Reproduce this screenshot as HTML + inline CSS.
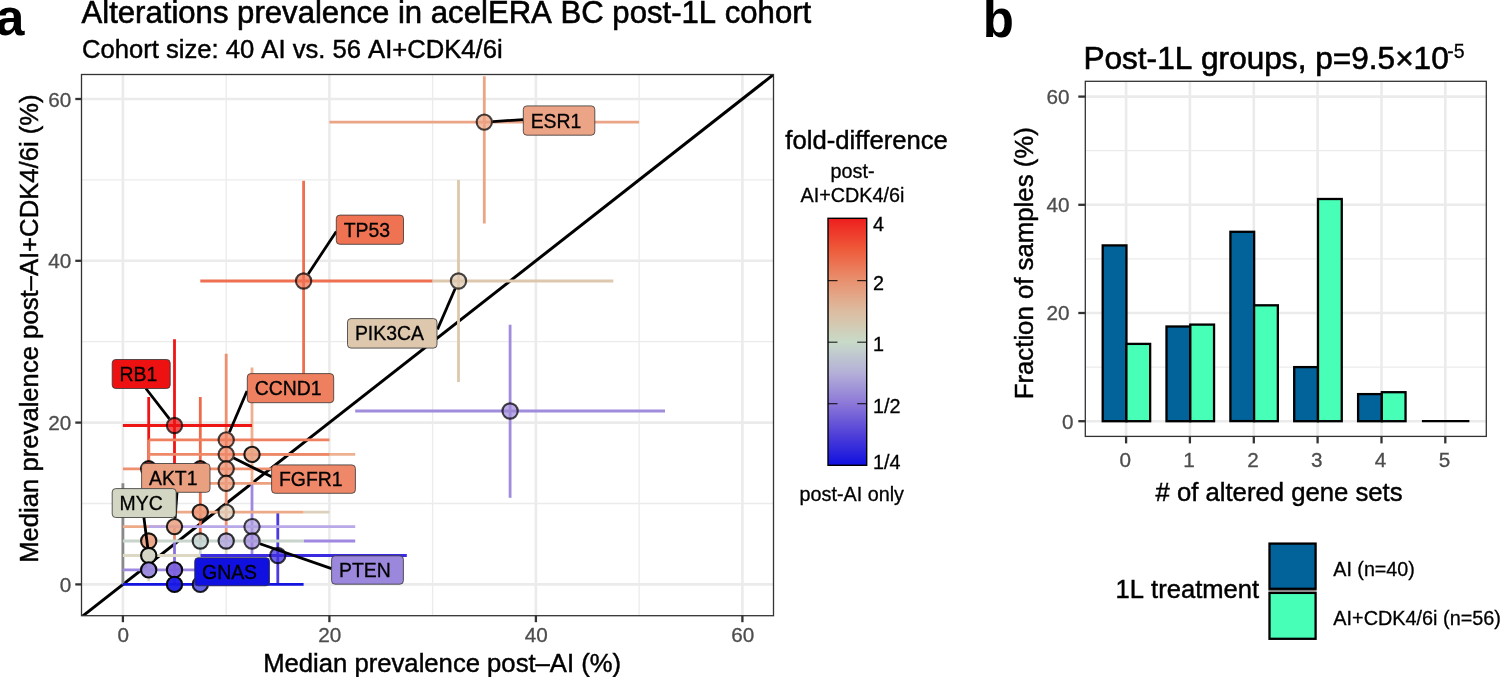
<!DOCTYPE html>
<html><head><meta charset="utf-8"><style>
html,body{margin:0;padding:0;background:#fff;width:1500px;height:677px;overflow:hidden}
svg{display:block;will-change:transform}
text{font-family:"Liberation Sans",sans-serif;font-kerning:none;font-feature-settings:"kern" 0, "liga" 0}
</style></head><body>
<svg width="1500" height="677" viewBox="0 0 1500 677" font-family="Liberation Sans, sans-serif">
<defs>
<clipPath id="clipA"><rect x="81.5" y="74.5" width="692.0" height="541.2"/></clipPath>
<linearGradient id="cbar" x1="0" y1="0" x2="0" y2="1">
<stop offset="0" stop-color="#ee1e1e"/>
<stop offset="0.125" stop-color="#ee5a3a"/>
<stop offset="0.25" stop-color="#e8906e"/>
<stop offset="0.375" stop-color="#ddbca0"/>
<stop offset="0.5" stop-color="#c8dac8"/>
<stop offset="0.625" stop-color="#b4b0d8"/>
<stop offset="0.75" stop-color="#8c78d8"/>
<stop offset="0.875" stop-color="#5040d8"/>
<stop offset="1" stop-color="#1010e0"/>
</linearGradient>
</defs>
<rect x="81.5" y="74.5" width="692.0" height="541.2" fill="#fff"/>
<g clip-path="url(#clipA)">
<line x1="226.2" y1="74.5" x2="226.2" y2="615.7" stroke="#ebebeb" stroke-width="1.3"/>
<line x1="81.5" y1="503.5" x2="773.5" y2="503.5" stroke="#ebebeb" stroke-width="1.3"/>
<line x1="432.6" y1="74.5" x2="432.6" y2="615.7" stroke="#ebebeb" stroke-width="1.3"/>
<line x1="81.5" y1="341.7" x2="773.5" y2="341.7" stroke="#ebebeb" stroke-width="1.3"/>
<line x1="639.1" y1="74.5" x2="639.1" y2="615.7" stroke="#ebebeb" stroke-width="1.3"/>
<line x1="81.5" y1="179.9" x2="773.5" y2="179.9" stroke="#ebebeb" stroke-width="1.3"/>
<line x1="122.9" y1="74.5" x2="122.9" y2="615.7" stroke="#ebebeb" stroke-width="2.6"/>
<line x1="81.5" y1="584.4" x2="773.5" y2="584.4" stroke="#ebebeb" stroke-width="2.6"/>
<line x1="329.4" y1="74.5" x2="329.4" y2="615.7" stroke="#ebebeb" stroke-width="2.6"/>
<line x1="81.5" y1="422.6" x2="773.5" y2="422.6" stroke="#ebebeb" stroke-width="2.6"/>
<line x1="535.9" y1="74.5" x2="535.9" y2="615.7" stroke="#ebebeb" stroke-width="2.6"/>
<line x1="81.5" y1="260.8" x2="773.5" y2="260.8" stroke="#ebebeb" stroke-width="2.6"/>
<line x1="742.4" y1="74.5" x2="742.4" y2="615.7" stroke="#ebebeb" stroke-width="2.6"/>
<line x1="81.5" y1="99.0" x2="773.5" y2="99.0" stroke="#ebebeb" stroke-width="2.6"/>
<line x1="71.3" y1="624.9" x2="794.0" y2="58.5" stroke="#000" stroke-width="3.0"/>
<line x1="329.4" y1="122.1" x2="639.1" y2="122.1" stroke="#eca486" stroke-width="2.8"/>
<line x1="484.3" y1="223.6" x2="484.3" y2="76.3" stroke="#eca486" stroke-width="2.8"/>
<line x1="200.3" y1="281.0" x2="432.6" y2="281.0" stroke="#ee7050" stroke-width="2.8"/>
<line x1="303.6" y1="386.2" x2="303.6" y2="180.7" stroke="#ee7050" stroke-width="2.8"/>
<line x1="432.6" y1="281.0" x2="613.3" y2="281.0" stroke="#ddc8ae" stroke-width="2.8"/>
<line x1="458.5" y1="382.1" x2="458.5" y2="179.9" stroke="#ddc8ae" stroke-width="2.8"/>
<line x1="355.2" y1="411.0" x2="665.0" y2="411.0" stroke="#a08cdc" stroke-width="2.8"/>
<line x1="510.1" y1="497.8" x2="510.1" y2="324.7" stroke="#a08cdc" stroke-width="2.8"/>
<line x1="122.9" y1="584.4" x2="122.9" y2="483.3" stroke="#8a8a8a" stroke-width="2.8"/>
<line x1="148.7" y1="468.8" x2="148.7" y2="397.1" stroke="#ee1515" stroke-width="2.8"/>
<line x1="148.7" y1="512.2" x2="148.7" y2="439.9" stroke="#ee8060" stroke-width="2.8"/>
<line x1="148.7" y1="581.2" x2="148.7" y2="541.0" stroke="#ddd8c4" stroke-width="2.8"/>
<line x1="174.5" y1="511.6" x2="174.5" y2="339.3" stroke="#ee1515" stroke-width="2.8"/>
<line x1="174.5" y1="541.0" x2="174.5" y2="526.6" stroke="#ee9070" stroke-width="2.8"/>
<line x1="174.5" y1="584.4" x2="174.5" y2="541.0" stroke="#8a70dd" stroke-width="2.8"/>
<line x1="200.3" y1="540.7" x2="200.3" y2="397.1" stroke="#ee6a4a" stroke-width="2.8"/>
<line x1="200.3" y1="555.5" x2="200.3" y2="541.0" stroke="#c8d4d4" stroke-width="2.8"/>
<line x1="226.2" y1="541.0" x2="226.2" y2="353.8" stroke="#ee9070" stroke-width="2.8"/>
<line x1="226.2" y1="555.5" x2="226.2" y2="541.0" stroke="#ddd8c4" stroke-width="2.8"/>
<line x1="252.0" y1="483.3" x2="252.0" y2="367.6" stroke="#edb090" stroke-width="2.8"/>
<line x1="252.0" y1="555.5" x2="252.0" y2="483.3" stroke="#a088e0" stroke-width="2.8"/>
<line x1="277.8" y1="584.4" x2="277.8" y2="512.8" stroke="#4a3ae0" stroke-width="2.8"/>
<line x1="122.9" y1="425.5" x2="252.0" y2="425.5" stroke="#ee1515" stroke-width="2.8"/>
<line x1="148.7" y1="439.9" x2="329.4" y2="439.9" stroke="#ee8060" stroke-width="2.8"/>
<line x1="252.0" y1="454.4" x2="355.2" y2="454.4" stroke="#edb090" stroke-width="2.8"/>
<line x1="148.7" y1="454.4" x2="329.4" y2="454.4" stroke="#ee8868" stroke-width="2.8"/>
<line x1="122.9" y1="468.8" x2="329.4" y2="468.8" stroke="#ee9070" stroke-width="2.8"/>
<line x1="148.7" y1="483.3" x2="303.6" y2="483.3" stroke="#eda080" stroke-width="2.8"/>
<line x1="303.6" y1="512.2" x2="329.4" y2="512.2" stroke="#ddd0bc" stroke-width="2.8"/>
<line x1="174.5" y1="512.2" x2="303.6" y2="512.2" stroke="#edaa88" stroke-width="2.8"/>
<line x1="122.9" y1="526.6" x2="174.5" y2="526.6" stroke="#edaa88" stroke-width="2.8"/>
<line x1="148.7" y1="526.6" x2="355.2" y2="526.6" stroke="#b8a8e8" stroke-width="2.8"/>
<line x1="303.6" y1="541.0" x2="355.2" y2="541.0" stroke="#9f88e0" stroke-width="2.8"/>
<line x1="122.9" y1="541.0" x2="303.6" y2="541.0" stroke="#c8d4cc" stroke-width="2.8"/>
<line x1="200.3" y1="555.5" x2="406.8" y2="555.5" stroke="#3a2ae0" stroke-width="2.8"/>
<line x1="122.9" y1="555.5" x2="200.3" y2="555.5" stroke="#ddd8c4" stroke-width="2.8"/>
<line x1="122.9" y1="569.9" x2="200.3" y2="569.9" stroke="#9f88e0" stroke-width="2.8"/>
<line x1="122.9" y1="584.4" x2="303.6" y2="584.4" stroke="#1414e0" stroke-width="2.8"/>
<circle cx="484.3" cy="122.1" r="7.65" fill="#eba080" fill-opacity="0.72" stroke="#000" stroke-opacity="0.72" stroke-width="2.1"/>
<circle cx="303.6" cy="281.0" r="7.65" fill="#ee7050" fill-opacity="0.72" stroke="#000" stroke-opacity="0.72" stroke-width="2.1"/>
<circle cx="458.5" cy="281.0" r="7.65" fill="#dcc6ac" fill-opacity="0.72" stroke="#000" stroke-opacity="0.72" stroke-width="2.1"/>
<circle cx="510.1" cy="411.0" r="7.65" fill="#9f8bdb" fill-opacity="0.72" stroke="#000" stroke-opacity="0.72" stroke-width="2.1"/>
<circle cx="174.5" cy="425.5" r="7.65" fill="#ee1111" fill-opacity="0.72" stroke="#000" stroke-opacity="0.72" stroke-width="2.1"/>
<circle cx="226.2" cy="439.9" r="7.65" fill="#ee8060" fill-opacity="0.72" stroke="#000" stroke-opacity="0.72" stroke-width="2.1"/>
<circle cx="226.2" cy="454.4" r="7.65" fill="#ee8868" fill-opacity="0.72" stroke="#000" stroke-opacity="0.72" stroke-width="2.1"/>
<circle cx="252.0" cy="454.4" r="7.65" fill="#e8a282" fill-opacity="0.88" stroke="#000" stroke-opacity="0.88" stroke-width="2.1"/>
<circle cx="226.2" cy="468.8" r="7.65" fill="#eb9070" fill-opacity="0.75" stroke="#000" stroke-opacity="0.75" stroke-width="2.1"/>
<circle cx="226.2" cy="483.3" r="7.65" fill="#eb9c7c" fill-opacity="0.75" stroke="#000" stroke-opacity="0.75" stroke-width="2.1"/>
<circle cx="148.7" cy="468.8" r="7.65" fill="#c84030" fill-opacity="0.9" stroke="#000" stroke-opacity="0.9" stroke-width="2.1"/>
<circle cx="200.3" cy="468.8" r="7.65" fill="#c84030" fill-opacity="0.9" stroke="#000" stroke-opacity="0.9" stroke-width="2.1"/>
<circle cx="200.3" cy="512.2" r="7.65" fill="#eb9474" fill-opacity="0.85" stroke="#000" stroke-opacity="0.85" stroke-width="2.1"/>
<circle cx="226.2" cy="512.2" r="7.65" fill="#ddceb8" fill-opacity="0.75" stroke="#000" stroke-opacity="0.75" stroke-width="2.1"/>
<circle cx="174.5" cy="526.6" r="7.65" fill="#e9a080" fill-opacity="0.85" stroke="#000" stroke-opacity="0.85" stroke-width="2.1"/>
<circle cx="252.0" cy="526.6" r="7.65" fill="#ad9edc" fill-opacity="0.72" stroke="#000" stroke-opacity="0.72" stroke-width="2.1"/>
<circle cx="148.7" cy="541.0" r="7.65" fill="#eca080" fill-opacity="0.9" stroke="#000" stroke-opacity="0.9" stroke-width="2.1"/>
<circle cx="200.3" cy="541.0" r="7.65" fill="#c2d2d0" fill-opacity="0.8" stroke="#000" stroke-opacity="0.8" stroke-width="2.1"/>
<circle cx="226.2" cy="541.0" r="7.65" fill="#ada4dc" fill-opacity="0.8" stroke="#000" stroke-opacity="0.8" stroke-width="2.1"/>
<circle cx="252.0" cy="541.0" r="7.65" fill="#9b87db" fill-opacity="0.72" stroke="#000" stroke-opacity="0.72" stroke-width="2.1"/>
<circle cx="277.8" cy="555.5" r="7.65" fill="#4030e0" fill-opacity="0.75" stroke="#000" stroke-opacity="0.75" stroke-width="2.1"/>
<circle cx="148.7" cy="555.5" r="7.65" fill="#d3d6c3" fill-opacity="0.95" stroke="#000" stroke-opacity="0.95" stroke-width="2.1"/>
<circle cx="148.7" cy="569.9" r="7.65" fill="#9a88dc" fill-opacity="0.95" stroke="#000" stroke-opacity="0.95" stroke-width="2.1"/>
<circle cx="174.5" cy="569.9" r="7.65" fill="#7b5fdb" fill-opacity="0.95" stroke="#000" stroke-opacity="0.95" stroke-width="2.1"/>
<circle cx="174.5" cy="584.4" r="7.65" fill="#1818e6" fill-opacity="0.95" stroke="#000" stroke-opacity="0.95" stroke-width="2.1"/>
<circle cx="200.3" cy="584.4" r="7.65" fill="#4a4ae0" fill-opacity="0.85" stroke="#000" stroke-opacity="0.85" stroke-width="2.1"/>
<line x1="492.7" y1="121.6" x2="523.3" y2="119.6" stroke="#000" stroke-width="2.8"/>
<line x1="308.2" y1="274.0" x2="336.3" y2="231.4" stroke="#000" stroke-width="2.8"/>
<line x1="455.1" y1="288.7" x2="437.5" y2="329.4" stroke="#000" stroke-width="2.8"/>
<line x1="169.4" y1="418.9" x2="145.9" y2="388.5" stroke="#000" stroke-width="2.8"/>
<line x1="229.4" y1="432.2" x2="247.0" y2="391.0" stroke="#000" stroke-width="2.8"/>
<line x1="233.7" y1="458.1" x2="271.6" y2="476.8" stroke="#000" stroke-width="2.8"/>
<line x1="175.1" y1="518.3" x2="177.0" y2="492.3" stroke="#000" stroke-width="2.8"/>
<line x1="147.7" y1="547.2" x2="143.9" y2="517.5" stroke="#000" stroke-width="2.8"/>
<line x1="259.9" y1="543.8" x2="331.6" y2="568.6" stroke="#000" stroke-width="2.8"/>
<rect x="523.3" y="105.9" width="71.5" height="29.3" rx="3.5" fill="#eca486" stroke="#333" stroke-width="0.8"/>
<text x="530.7" y="127.5" font-size="19.4" fill="#000" stroke="#000" stroke-width="0.3">ESR1</text>
<rect x="336.3" y="215.1" width="67.2" height="29.2" rx="3.5" fill="#ef7252" stroke="#333" stroke-width="0.8"/>
<text x="343.7" y="236.6" font-size="19.4" fill="#000" stroke="#000" stroke-width="0.3">TP53</text>
<rect x="347.5" y="318.6" width="89.5" height="29.5" rx="3.5" fill="#ddc8ae" stroke="#333" stroke-width="0.8"/>
<text x="354.9" y="340.2" font-size="19.4" fill="#000" stroke="#000" stroke-width="0.3">PIK3CA</text>
<rect x="112.2" y="359.5" width="58.0" height="29.0" rx="3.5" fill="#ee1111" stroke="#333" stroke-width="0.8"/>
<text x="119.6" y="380.9" font-size="19.4" fill="#000" stroke="#000" stroke-width="0.3">RB1</text>
<rect x="247.3" y="373.6" width="86.4" height="29.1" rx="3.5" fill="#ee8060" stroke="#333" stroke-width="0.8"/>
<text x="254.7" y="395.0" font-size="19.4" fill="#000" stroke="#000" stroke-width="0.3">CCND1</text>
<rect x="271.6" y="464.9" width="83.8" height="28.4" rx="3.5" fill="#ee8868" stroke="#333" stroke-width="0.8"/>
<text x="279.0" y="486.0" font-size="19.4" fill="#000" stroke="#000" stroke-width="0.3">FGFR1</text>
<rect x="141.6" y="463.5" width="68.4" height="28.8" rx="3.5" fill="#e9a080" stroke="#333" stroke-width="0.8"/>
<text x="149.0" y="484.8" font-size="19.4" fill="#000" stroke="#000" stroke-width="0.3">AKT1</text>
<rect x="112.2" y="488.6" width="64.0" height="28.9" rx="3.5" fill="#d3d6c3" stroke="#333" stroke-width="0.8"/>
<text x="119.6" y="509.9" font-size="19.4" fill="#000" stroke="#000" stroke-width="0.3">MYC</text>
<rect x="194.7" y="557.7" width="74.8" height="28.1" rx="3.5" fill="#1010e0" stroke="#333" stroke-width="0.8"/>
<text x="202.1" y="578.6" font-size="19.4" fill="#000" stroke="#000" stroke-width="0.3">GNAS</text>
<rect x="331.6" y="555.8" width="71.8" height="28.4" rx="3.5" fill="#9b87db" stroke="#333" stroke-width="0.8"/>
<text x="339.0" y="576.9" font-size="19.4" fill="#000" stroke="#000" stroke-width="0.3">PTEN</text>
</g>
<rect x="81.5" y="74.5" width="692.0" height="541.2" fill="none" stroke="#333" stroke-width="1.3"/>
<line x1="75.3" y1="584.4" x2="81.5" y2="584.4" stroke="#333" stroke-width="2.3"/>
<text x="71.3" y="592.0" font-size="20.7" fill="#4d4d4d" text-anchor="end" stroke="#4d4d4d" stroke-width="0.3">0</text>
<line x1="122.9" y1="615.7" x2="122.9" y2="622.2" stroke="#333" stroke-width="2.3"/>
<text x="123.3" y="642" font-size="20.7" fill="#4d4d4d" text-anchor="middle" stroke="#4d4d4d" stroke-width="0.3">0</text>
<line x1="75.3" y1="422.6" x2="81.5" y2="422.6" stroke="#333" stroke-width="2.3"/>
<text x="71.3" y="430.2" font-size="20.7" fill="#4d4d4d" text-anchor="end" stroke="#4d4d4d" stroke-width="0.3">20</text>
<line x1="329.4" y1="615.7" x2="329.4" y2="622.2" stroke="#333" stroke-width="2.3"/>
<text x="329.8" y="642" font-size="20.7" fill="#4d4d4d" text-anchor="middle" stroke="#4d4d4d" stroke-width="0.3">20</text>
<line x1="75.3" y1="260.8" x2="81.5" y2="260.8" stroke="#333" stroke-width="2.3"/>
<text x="71.3" y="268.4" font-size="20.7" fill="#4d4d4d" text-anchor="end" stroke="#4d4d4d" stroke-width="0.3">40</text>
<line x1="535.9" y1="615.7" x2="535.9" y2="622.2" stroke="#333" stroke-width="2.3"/>
<text x="536.3" y="642" font-size="20.7" fill="#4d4d4d" text-anchor="middle" stroke="#4d4d4d" stroke-width="0.3">40</text>
<line x1="75.3" y1="99.0" x2="81.5" y2="99.0" stroke="#333" stroke-width="2.3"/>
<text x="71.3" y="106.6" font-size="20.7" fill="#4d4d4d" text-anchor="end" stroke="#4d4d4d" stroke-width="0.3">60</text>
<line x1="742.4" y1="615.7" x2="742.4" y2="622.2" stroke="#333" stroke-width="2.3"/>
<text x="742.8" y="642" font-size="20.7" fill="#4d4d4d" text-anchor="middle" stroke="#4d4d4d" stroke-width="0.3">60</text>
<text x="263.2" y="671.7" font-size="25.66" fill="#000" stroke="#000" stroke-width="0.45">Median prevalence post–AI (%)</text>
<text transform="translate(38.0,562.8) rotate(-90)" font-size="25.66" fill="#000" stroke="#000" stroke-width="0.45">Median prevalence post–AI+CDK4/6i (%)</text>
<text x="-4.6" y="34.9" font-size="52" font-weight="bold" fill="#000">a</text>
<text x="81.5" y="23.3" font-size="31.12" fill="#000" stroke="#000" stroke-width="0.6">Alterations prevalence in acelERA BC post-1L cohort</text>
<text x="82" y="58.1" font-size="25.62" fill="#000" stroke="#000" stroke-width="0.45">Cohort size: 40 AI vs. 56 AI+CDK4/6i</text>
<text x="785.3" y="148.8" font-size="25.66" fill="#000" stroke="#000" stroke-width="0.45">fold-difference</text>
<text x="852.5" y="177.6" font-size="19.8" fill="#000" text-anchor="middle" stroke="#000" stroke-width="0.3">post-</text>
<text x="852.5" y="202" font-size="19.8" fill="#000" text-anchor="middle" stroke="#000" stroke-width="0.3">AI+CDK4/6i</text>
<rect x="828" y="218.3" width="38.7" height="247" fill="url(#cbar)" stroke="#000" stroke-width="1.4"/>
<text x="873.1" y="231.4" font-size="19.8" fill="#000" stroke="#000" stroke-width="0.3">4</text>
<line x1="828" y1="280.6" x2="837.5" y2="280.6" stroke="#000" stroke-width="1.2" opacity="0.8"/>
<line x1="857.2" y1="280.6" x2="866.7" y2="280.6" stroke="#000" stroke-width="1.2" opacity="0.8"/>
<text x="873.1" y="289.6" font-size="19.8" fill="#000" stroke="#000" stroke-width="0.3">2</text>
<line x1="828" y1="342.2" x2="837.5" y2="342.2" stroke="#000" stroke-width="1.2" opacity="0.8"/>
<line x1="857.2" y1="342.2" x2="866.7" y2="342.2" stroke="#000" stroke-width="1.2" opacity="0.8"/>
<text x="873.1" y="351.4" font-size="19.8" fill="#000" stroke="#000" stroke-width="0.3">1</text>
<line x1="828" y1="403.7" x2="837.5" y2="403.7" stroke="#000" stroke-width="1.2" opacity="0.8"/>
<line x1="857.2" y1="403.7" x2="866.7" y2="403.7" stroke="#000" stroke-width="1.2" opacity="0.8"/>
<text x="873.1" y="412.9" font-size="19.8" fill="#000" stroke="#000" stroke-width="0.3">1/2</text>
<text x="873.1" y="468.7" font-size="19.8" fill="#000" stroke="#000" stroke-width="0.3">1/4</text>
<text x="799.5" y="500.7" font-size="19.8" fill="#000" stroke="#000" stroke-width="0.3">post-AI only</text>
<rect x="1085.3" y="81.3" width="401.0" height="355.09999999999997" fill="#fff"/>
<line x1="1085.3" y1="367.1" x2="1486.3" y2="367.1" stroke="#ebebeb" stroke-width="1.3"/>
<line x1="1085.3" y1="258.9" x2="1486.3" y2="258.9" stroke="#ebebeb" stroke-width="1.3"/>
<line x1="1085.3" y1="150.7" x2="1486.3" y2="150.7" stroke="#ebebeb" stroke-width="1.3"/>
<line x1="1085.3" y1="421.2" x2="1486.3" y2="421.2" stroke="#ebebeb" stroke-width="2.6"/>
<line x1="1085.3" y1="313.0" x2="1486.3" y2="313.0" stroke="#ebebeb" stroke-width="2.6"/>
<line x1="1085.3" y1="204.8" x2="1486.3" y2="204.8" stroke="#ebebeb" stroke-width="2.6"/>
<line x1="1085.3" y1="96.6" x2="1486.3" y2="96.6" stroke="#ebebeb" stroke-width="2.6"/>
<line x1="1126.1" y1="81.3" x2="1126.1" y2="436.4" stroke="#ebebeb" stroke-width="2.6"/>
<line x1="1189.9" y1="81.3" x2="1189.9" y2="436.4" stroke="#ebebeb" stroke-width="2.6"/>
<line x1="1253.8" y1="81.3" x2="1253.8" y2="436.4" stroke="#ebebeb" stroke-width="2.6"/>
<line x1="1317.6" y1="81.3" x2="1317.6" y2="436.4" stroke="#ebebeb" stroke-width="2.6"/>
<line x1="1381.5" y1="81.3" x2="1381.5" y2="436.4" stroke="#ebebeb" stroke-width="2.6"/>
<line x1="1445.3" y1="81.3" x2="1445.3" y2="436.4" stroke="#ebebeb" stroke-width="2.6"/>
<rect x="1102.7" y="245.4" width="23.75" height="175.8" fill="#02639a" stroke="#000" stroke-width="2.3"/>
<rect x="1126.4" y="343.9" width="23.75" height="77.3" fill="#48ffb8" stroke="#000" stroke-width="2.3"/>
<rect x="1166.5" y="326.5" width="23.75" height="94.7" fill="#02639a" stroke="#000" stroke-width="2.3"/>
<rect x="1190.3" y="324.6" width="23.75" height="96.6" fill="#48ffb8" stroke="#000" stroke-width="2.3"/>
<rect x="1230.4" y="231.8" width="23.75" height="189.3" fill="#02639a" stroke="#000" stroke-width="2.3"/>
<rect x="1254.1" y="305.3" width="23.75" height="115.9" fill="#48ffb8" stroke="#000" stroke-width="2.3"/>
<rect x="1294.2" y="367.1" width="23.75" height="54.1" fill="#02639a" stroke="#000" stroke-width="2.3"/>
<rect x="1318.0" y="199.0" width="23.75" height="222.2" fill="#48ffb8" stroke="#000" stroke-width="2.3"/>
<rect x="1358.1" y="394.1" width="23.75" height="27.1" fill="#02639a" stroke="#000" stroke-width="2.3"/>
<rect x="1381.8" y="392.2" width="23.75" height="29.0" fill="#48ffb8" stroke="#000" stroke-width="2.3"/>
<line x1="1421.9" y1="421.2" x2="1469.4" y2="421.2" stroke="#000" stroke-width="2.3"/>
<rect x="1085.3" y="81.3" width="401.0" height="355.09999999999997" fill="none" stroke="#333" stroke-width="1.3"/>
<line x1="1078.3" y1="421.2" x2="1085.3" y2="421.2" stroke="#333" stroke-width="2.3"/>
<text x="1073.4" y="428.5" font-size="20.7" fill="#4d4d4d" text-anchor="end" stroke="#4d4d4d" stroke-width="0.3">0</text>
<line x1="1078.3" y1="313.0" x2="1085.3" y2="313.0" stroke="#333" stroke-width="2.3"/>
<text x="1069.5" y="320.3" font-size="20.7" fill="#4d4d4d" text-anchor="end" stroke="#4d4d4d" stroke-width="0.3">20</text>
<line x1="1078.3" y1="204.8" x2="1085.3" y2="204.8" stroke="#333" stroke-width="2.3"/>
<text x="1069.5" y="212.1" font-size="20.7" fill="#4d4d4d" text-anchor="end" stroke="#4d4d4d" stroke-width="0.3">40</text>
<line x1="1078.3" y1="96.6" x2="1085.3" y2="96.6" stroke="#333" stroke-width="2.3"/>
<text x="1069.5" y="103.9" font-size="20.7" fill="#4d4d4d" text-anchor="end" stroke="#4d4d4d" stroke-width="0.3">60</text>
<line x1="1126.1" y1="436.4" x2="1126.1" y2="443.4" stroke="#333" stroke-width="2.3"/>
<text x="1125.2" y="467" font-size="20.7" fill="#4d4d4d" text-anchor="middle" stroke="#4d4d4d" stroke-width="0.3">0</text>
<line x1="1189.9" y1="436.4" x2="1189.9" y2="443.4" stroke="#333" stroke-width="2.3"/>
<text x="1189.0" y="467" font-size="20.7" fill="#4d4d4d" text-anchor="middle" stroke="#4d4d4d" stroke-width="0.3">1</text>
<line x1="1253.8" y1="436.4" x2="1253.8" y2="443.4" stroke="#333" stroke-width="2.3"/>
<text x="1252.9" y="467" font-size="20.7" fill="#4d4d4d" text-anchor="middle" stroke="#4d4d4d" stroke-width="0.3">2</text>
<line x1="1317.6" y1="436.4" x2="1317.6" y2="443.4" stroke="#333" stroke-width="2.3"/>
<text x="1316.7" y="467" font-size="20.7" fill="#4d4d4d" text-anchor="middle" stroke="#4d4d4d" stroke-width="0.3">3</text>
<line x1="1381.5" y1="436.4" x2="1381.5" y2="443.4" stroke="#333" stroke-width="2.3"/>
<text x="1380.6" y="467" font-size="20.7" fill="#4d4d4d" text-anchor="middle" stroke="#4d4d4d" stroke-width="0.3">4</text>
<line x1="1445.3" y1="436.4" x2="1445.3" y2="443.4" stroke="#333" stroke-width="2.3"/>
<text x="1444.4" y="467" font-size="20.7" fill="#4d4d4d" text-anchor="middle" stroke="#4d4d4d" stroke-width="0.3">5</text>
<text x="1155.5" y="500.9" font-size="25.7" fill="#000" stroke="#000" stroke-width="0.45"># of altered gene sets</text>
<text transform="translate(1033,399.3) rotate(-90)" font-size="25.77" fill="#000" stroke="#000" stroke-width="0.45">Fraction of samples (%)</text>
<text x="982.7" y="37.3" font-size="51" font-weight="bold" fill="#000">b</text>
<text x="1083.4" y="68.5" font-size="31.6" fill="#000" stroke="#000" stroke-width="0.6">Post-1L groups, p=9.5×10</text><text x="1447.2" y="58.3" font-size="19.5" fill="#000" stroke="#000" stroke-width="0.3">-5</text>
<text x="1115.6" y="598.1" font-size="25.56" fill="#000" stroke="#000" stroke-width="0.45">1L treatment</text>
<line x1="1268.4" y1="590.8" x2="1316.6" y2="590.8" stroke="#808080" stroke-width="1.4"/>
<rect x="1269.5" y="543.6" width="46.1" height="45.2" fill="#02639a" stroke="#000" stroke-width="2.3"/>
<rect x="1269.5" y="592.9" width="46.1" height="45.9" fill="#48ffb8" stroke="#000" stroke-width="2.3"/>
<text x="1333.3" y="576" font-size="19.7" fill="#000" stroke="#000" stroke-width="0.3">AI (n=40)</text>
<text x="1333.3" y="625" font-size="19.85" fill="#000" stroke="#000" stroke-width="0.3">AI+CDK4/6i (n=56)</text>
</svg>
</body></html>
